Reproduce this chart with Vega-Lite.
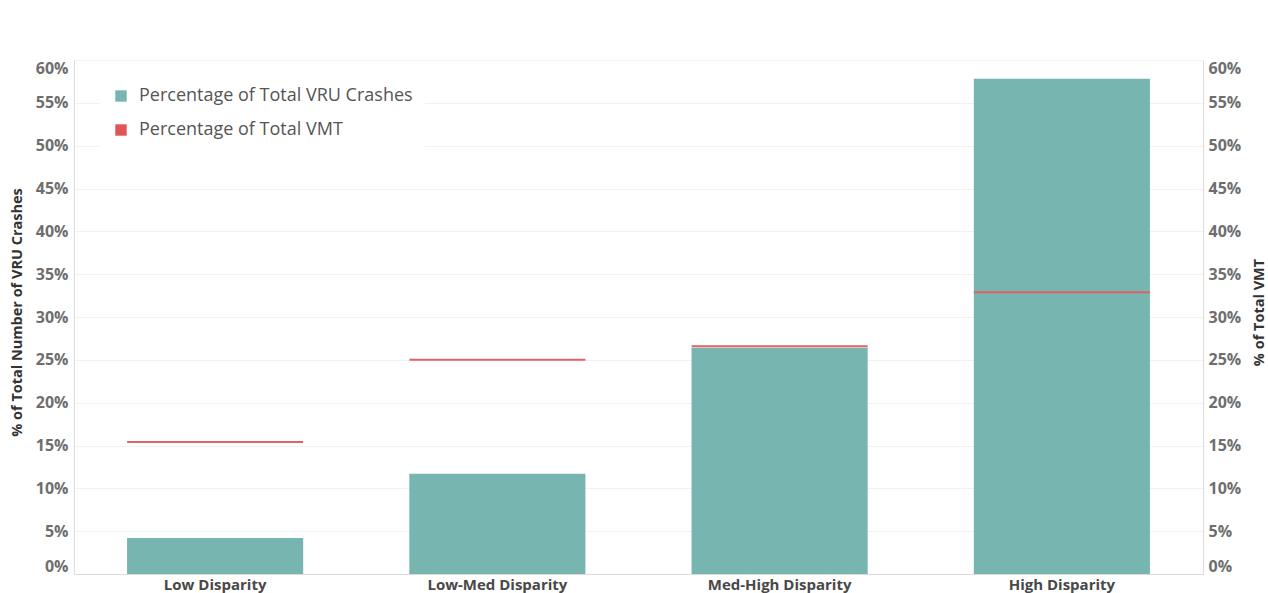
{
  "$schema": "https://vega.github.io/schema/vega-lite/v6.json",
  "autosize": {"type": "none"},
  "width": 1129,
  "height": 514,
  "padding": {"left": 74, "top": 60, "right": 65, "bottom": 19},
  "background": "white",
  "config": {
    "view": {"stroke": null},
    "font": "Open Sans"
  },
  "data": {
    "values": [
      {"category": "Low Disparity", "series": "Percentage of Total VRU Crashes", "value": 0.042},
      {"category": "Low-Med Disparity", "series": "Percentage of Total VRU Crashes", "value": 0.117},
      {"category": "Med-High Disparity", "series": "Percentage of Total VRU Crashes", "value": 0.264},
      {"category": "High Disparity", "series": "Percentage of Total VRU Crashes", "value": 0.578},
      {"category": "Low Disparity", "series": "Percentage of Total VMT", "value": 0.154},
      {"category": "Low-Med Disparity", "series": "Percentage of Total VMT", "value": 0.250},
      {"category": "Med-High Disparity", "series": "Percentage of Total VMT", "value": 0.266},
      {"category": "High Disparity", "series": "Percentage of Total VMT", "value": 0.329}
    ]
  },
  "encoding": {
    "x": {
      "field": "category",
      "type": "nominal",
      "sort": ["Low Disparity", "Low-Med Disparity", "Med-High Disparity", "High Disparity"],
      "scale": {"paddingInner": 0.376, "paddingOuter": 0.188},
      "axis": {
        "title": null,
        "labelAngle": 0,
        "labelFont": "Open Sans",
        "labelFontWeight": "bold",
        "labelFontSize": 15,
        "labelColor": "#484848",
        "labelPadding": 3,
        "domainColor": "#dcdcdc",
        "ticks": false
      }
    }
  },
  "layer": [
    {
      "transform": [{"filter": "datum.series === 'Percentage of Total VRU Crashes'"}],
      "mark": {"type": "bar", "color": "#77b5b1"},
      "encoding": {
        "y": {
          "field": "value",
          "type": "quantitative",
          "scale": {"domain": [0, 0.6], "nice": false},
          "axis": {
            "title": "% of Total Number of VRU Crashes",
            "titleFont": "Open Sans",
            "titleFontSize": 14.5,
            "titleFontWeight": "bold",
            "titleColor": "#333",
            "titleAngle": 270,
            "titleBaseline": "middle",
            "titleAlign": "center",
            "titleX": -57,
            "titleY": 252,
            "values": [0, 0.05, 0.1, 0.15, 0.2, 0.25, 0.3, 0.35, 0.4, 0.45, 0.5, 0.55, 0.6],
            "format": ".0%",
            "labelFont": "Open Sans",
            "labelFontWeight": "bold",
            "labelFontSize": 16,
            "labelColor": "#6e6e6e",
            "labelPadding": 6,
            "labelFlush": true,
            "ticks": false,
            "domainColor": "#dcdcdc",
            "gridColor": "#f1f1f1"
          }
        },
        "color": {
          "field": "series",
          "type": "nominal",
          "scale": {
            "domain": ["Percentage of Total VRU Crashes", "Percentage of Total VMT"],
            "range": ["#77b5b1", "#e05555"]
          },
          "legend": {
            "title": null,
            "orient": "none",
            "legendX": 26,
            "legendY": 15,
            "padding": 12,
            "fillColor": "white",
            "symbolType": "square",
            "symbolSize": 130,
            "symbolStrokeWidth": 0,
            "labelFont": "Open Sans",
            "labelFontSize": 18,
            "labelColor": "#555",
            "labelOffset": 9,
            "labelLimit": 0,
            "rowPadding": 16
          }
        }
      }
    },
    {
      "transform": [{"filter": "datum.series === 'Percentage of Total VMT'"}],
      "mark": {"type": "tick", "color": "#e06262", "size": 176, "thickness": 2, "opacity": 1},
      "encoding": {
        "y": {
          "field": "value",
          "type": "quantitative",
          "scale": {"domain": [0, 0.6], "nice": false},
          "axis": {
            "orient": "right",
            "title": "% of Total VMT",
            "titleAngle": 270,
            "titleBaseline": "middle",
            "titleAlign": "center",
            "titleX": 56,
            "titleY": 252,
            "titleFont": "Open Sans",
            "titleFontSize": 14.5,
            "titleFontWeight": "bold",
            "titleColor": "#333",
            "values": [0, 0.05, 0.1, 0.15, 0.2, 0.25, 0.3, 0.35, 0.4, 0.45, 0.5, 0.55, 0.6],
            "format": ".0%",
            "labelFont": "Open Sans",
            "labelFontWeight": "bold",
            "labelFontSize": 16,
            "labelColor": "#6e6e6e",
            "labelPadding": 5,
            "labelFlush": true,
            "ticks": false,
            "grid": false,
            "domainColor": "#dcdcdc"
          }
        }
      }
    }
  ],
  "resolve": {"scale": {"y": "independent"}}
}
